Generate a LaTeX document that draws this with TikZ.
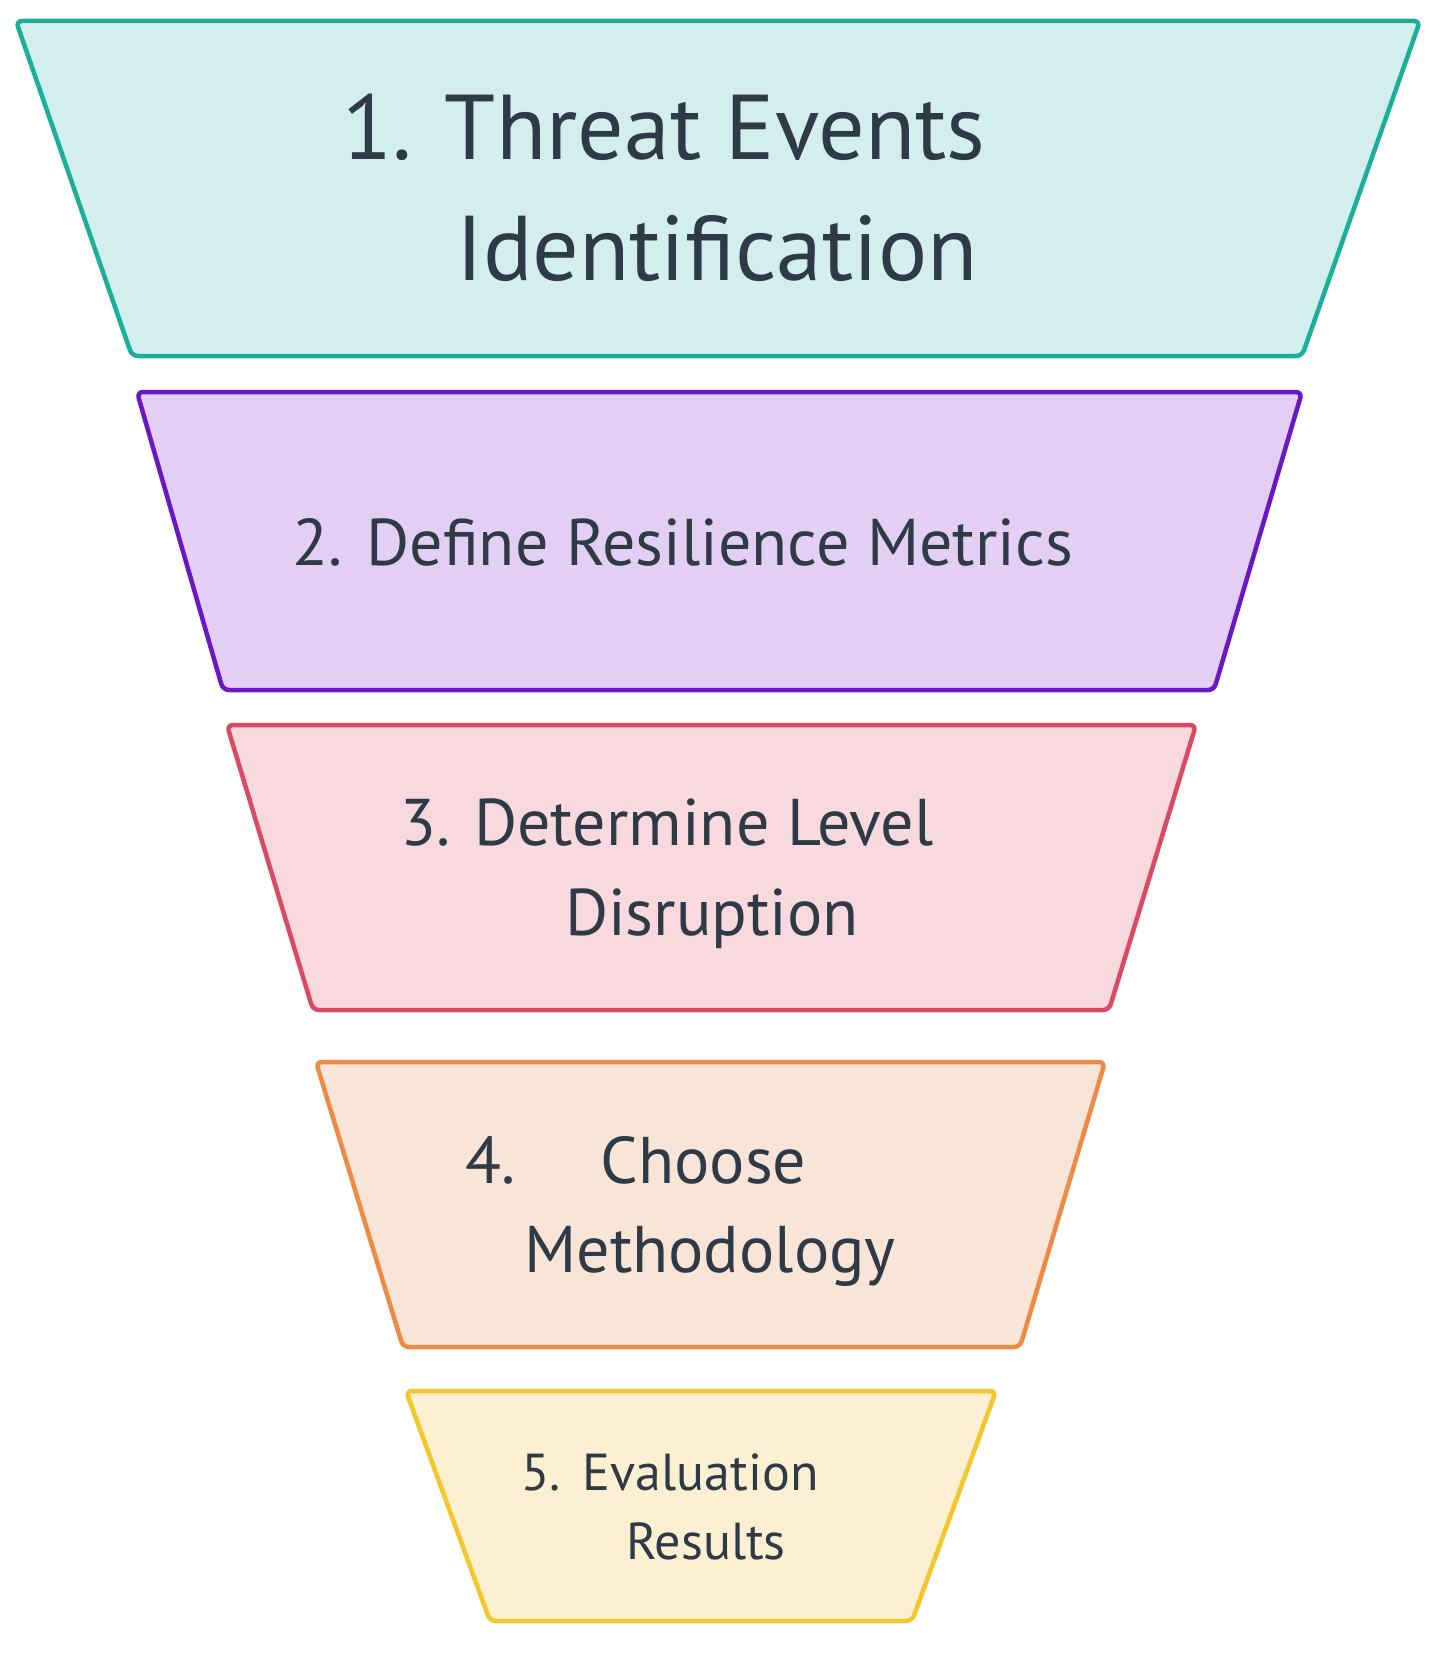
\documentclass[tikz,border=0pt]{standalone}
\usepackage{fontspec}
\setmainfont{PT Sans}
\begin{document}
\begin{tikzpicture}[x=1pt,y=-1pt,
  trap/.style={line width=4.5pt,rounded corners=6pt,line join=round},
  lbl/.style={text=txt,inner sep=0,anchor=base},
]
\definecolor{txt}{HTML}{2E3A46}
\definecolor{c1}{HTML}{1BAE9A}\definecolor{f1}{HTML}{D2EFED}
\definecolor{c2}{HTML}{6A17C4}\definecolor{f2}{HTML}{E3CFF3}
\definecolor{c3}{HTML}{DA4A62}\definecolor{f3}{HTML}{F7D9DE}
\definecolor{c4}{HTML}{EE8A44}\definecolor{f4}{HTML}{F9E4D8}
\definecolor{c5}{HTML}{F5C62A}\definecolor{f5}{HTML}{FDF0D2}
\useasboundingbox[fill=white] (0,0) rectangle (1454,1659);
\draw[trap,draw=c1,fill=f1] (16,21) -- (1420,21) -- (1302,356) -- (132,356) -- cycle;
\draw[trap,draw=c2,fill=f2] (137,392) -- (1302,392) -- (1214,690) -- (223,690) -- cycle;
\draw[trap,draw=c3,fill=f3] (227,725) -- (1196,725) -- (1109,1010) -- (313,1010) -- cycle;
\draw[trap,draw=c4,fill=f4] (316,1062) -- (1105,1062) -- (1020,1347) -- (403,1347) -- cycle;
\draw[trap,draw=c5,fill=f5] (406,1391) -- (996,1391) -- (912,1621) -- (490,1621) -- cycle;
\node[lbl,font=\fontsize{92}{100}\selectfont] (t1a) at (664,160) {1. Threat Events};
\node[lbl,font=\fontsize{92}{100}\selectfont] (t1b) at (717,280) {Identification};
\node[lbl,font=\fontsize{66}{72}\selectfont] (t2) at (683,565) {2. Define Resilience Metrics};
\node[lbl,font=\fontsize{66}{72}\selectfont] (t3a) at (667,845) {3. Determine Level};
\node[lbl,font=\fontsize{66}{72}\selectfont] (t3b) at (712,935) {Disruption};
\node[lbl,font=\fontsize{66}{72}\selectfont] (t4a) at (636,1183) {4.\hspace{85pt}Choose};
\node[lbl,font=\fontsize{66}{72}\selectfont] (t4b) at (710,1272) {Methodology};
\node[lbl,font=\fontsize{52}{58}\selectfont] (t5a) at (670,1490) {5.\hspace{22pt}Evaluation};
\node[lbl,font=\fontsize{52}{58}\selectfont] (t5b) at (706,1559) {Results};
\end{tikzpicture}
\end{document}
